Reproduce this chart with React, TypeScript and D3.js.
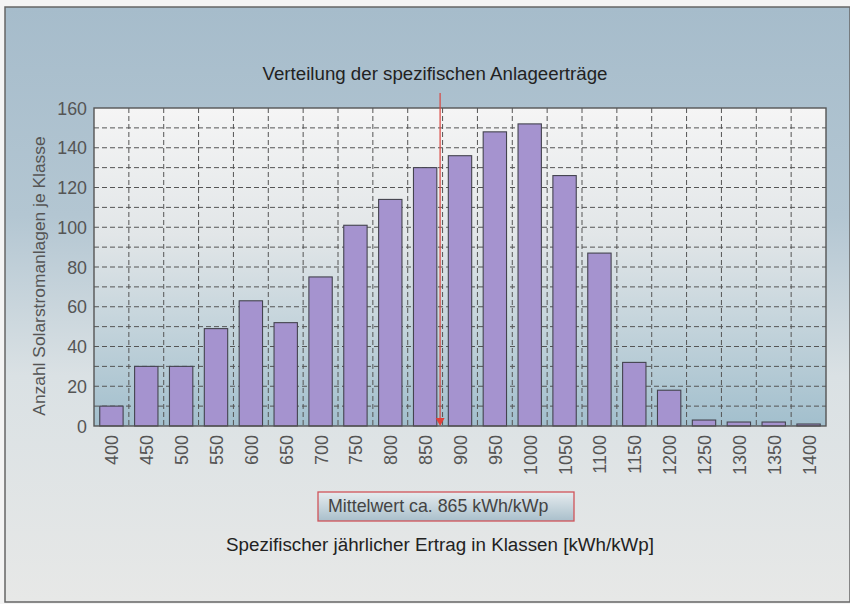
import React from "react";
import * as d3 from "d3";

const categories = ["400","450","500","550","600","650","700","750","800","850","900","950","1000","1050","1100","1150","1200","1250","1300","1350","1400"];
const counts = [10,30,30,49,63,52,75,101,114,130,136,148,152,126,87,32,18,3,2,2,1];
const yTicks = [0,20,40,60,80,100,120,140,160];
const yGrid = [10,20,30,40,50,60,70,80,90,100,110,120,130,140,150];
const meanValue = 865;
const classStep = 50;
const title = "Verteilung der spezifischen Anlageerträge";
const yTitle = "Anzahl Solarstromanlagen je Klasse";
const xTitle = "Spezifischer jährlicher Ertrag in Klassen [kWh/kWp]";
const meanLabel = "Mittelwert ca. 865 kWh/kWp";

const W = 850, H = 604;
const plot = { left: 94, top: 108, right: 826, bottom: 426 };
const FONT = "'Liberation Sans', Arial, Helvetica, sans-serif";

export default function App() {
  const x = d3.scaleBand<string>().domain(categories).range([plot.left, plot.right]).paddingInner(0.33).paddingOuter(0.165);
  const xb = d3.scaleBand<string>().domain(categories).range([plot.left, plot.right]);
  const y = d3.scaleLinear().domain([0, 160]).range([plot.bottom, plot.top]);
  const step = xb.step();
  const first = +categories[0];
  const meanX = xb(categories[0])! + step / 2 + ((meanValue - first) / classStep) * step + 4.5;
  const bounds = categories.slice(1).map((c) => xb(c)!);

  return (
    <svg width={W} height={H} style={{ position: "absolute", left: 0, top: 0 }} fontFamily={FONT}>
      <defs>
        <linearGradient id="bg" x1="0" y1="0" x2="0" y2="1">
          <stop offset="0" stopColor="#a6bccb" />
          <stop offset="0.35" stopColor="#b3c6d2" />
          <stop offset="0.62" stopColor="#dae1e4" />
          <stop offset="1" stopColor="#e7e8e7" />
        </linearGradient>
        <linearGradient id="pg" x1="0" y1="0" x2="0" y2="1">
          <stop offset="0" stopColor="#f5f5f5" />
          <stop offset="0.4" stopColor="#e2e6e8" />
          <stop offset="1" stopColor="#a2bfcd" />
        </linearGradient>
        <linearGradient id="boxg" x1="0" y1="0" x2="0" y2="1">
          <stop offset="0" stopColor="#e6ecef" />
          <stop offset="1" stopColor="#a9bfcb" />
        </linearGradient>
      </defs>
      <rect x={0} y={0} width={W} height={H} fill="#f4f4f4" />
      <rect x={5} y={7} width={W - 5} height={595} fill="url(#bg)" stroke="#666" strokeWidth={1.5} />
      <rect x={plot.left} y={plot.top} width={plot.right - plot.left} height={plot.bottom - plot.top} fill="url(#pg)" />
      {yGrid.map((v) => (
        <line key={"h" + v} x1={plot.left} x2={plot.right} y1={y(v)} y2={y(v)} stroke="#555" strokeWidth={1} strokeDasharray="5,3" />
      ))}
      {bounds.map((bx, i) => (
        <line key={"v" + i} x1={bx} x2={bx} y1={plot.top} y2={plot.bottom} stroke="#555" strokeWidth={1} strokeDasharray="5,3" />
      ))}
      {categories.map((c, i) => (
        <rect key={c} x={x(c)} y={y(counts[i])} width={x.bandwidth()} height={plot.bottom - y(counts[i])} fill="#a593cf" stroke="#44444f" strokeWidth={1.1} />
      ))}
      <rect x={plot.left} y={plot.top} width={plot.right - plot.left} height={plot.bottom - plot.top} fill="none" stroke="#555" strokeWidth={1.4} />
      <line x1={meanX} x2={meanX} y1={93} y2={418} stroke="#d9453f" strokeWidth={1.2} />
      <path d={`M${meanX - 4.5},${418} L${meanX + 4.5},${418} L${meanX},${426} Z`} fill="#e0403a" />
      <text x={435} y={80} textAnchor="middle" fontSize={18.7} fill="#222">{title}</text>
      {yTicks.map((v) => (
        <text key={"yt" + v} x={87} y={y(v) + 6.5} textAnchor="end" fontSize={17.8} fill="#555">{v}</text>
      ))}
      <text transform={`translate(45,${276}) rotate(-90)`} textAnchor="middle" fontSize={17.4} fill="#555">{yTitle}</text>
      {categories.map((c) => (
        <text key={"xt" + c} transform={`translate(${xb(c)! + step / 2 + 7},${435}) rotate(-90)`} textAnchor="end" fontSize={18} fill="#555">{c}</text>
      ))}
      <rect x={318} y={492} width={256} height={29} fill="url(#boxg)" stroke="#d0545a" strokeWidth={1.3} />
      <text x={328} y={512} fontSize={17.8} fill="#444">{meanLabel}</text>
      <text x={440} y={551} textAnchor="middle" fontSize={18.8} fill="#222">{xTitle}</text>
    </svg>
  );
}
